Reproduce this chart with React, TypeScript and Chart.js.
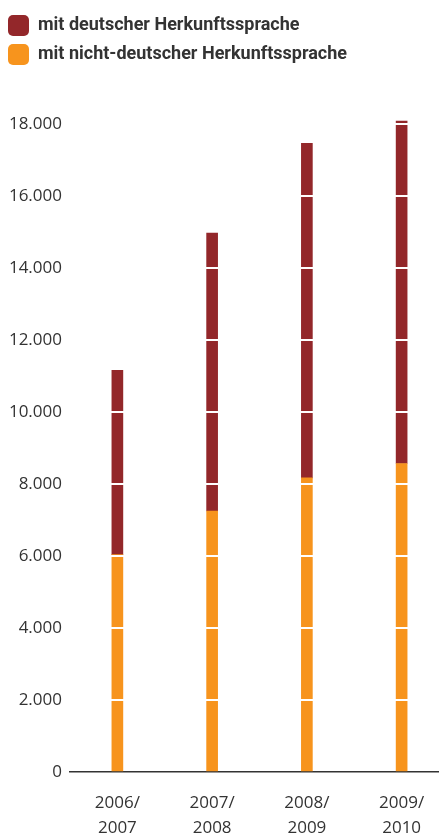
import React, { useEffect, useRef } from "react";
import { Chart, registerables } from "chart.js";

Chart.register(...registerables);

const categories: string[][] = [
  ["2006/", "2007"],
  ["2007/", "2008"],
  ["2008/", "2009"],
  ["2009/", "2010"],
];
const seriesNames = ["mit deutscher Herkunftssprache", "mit nicht-deutscher Herkunftssprache"];
const nichtDeutsch = [6040, 7250, 8170, 8570];
const deutsch = [5120, 7720, 9290, 9510];
const yMin = 0;
const yMax = 18000;
const yStep = 2000;

const RED = "#93272a";
const ORANGE = "#f7941d";

function fmt(v: number): string {
  return String(v).replace(/\B(?=(\d{3})+(?!\d))/g, ".");
}

export default function App() {
  const ref = useRef<HTMLCanvasElement | null>(null);
  useEffect(() => {
    if (!ref.current) return;
    const legendGap = {
      id: "legendGap",
      beforeInit(chart: any) {
        const orig = chart.legend.fit;
        chart.legend.fit = function () {
          orig.bind(chart.legend)();
          this.height += 49;
        };
      },
    };
    const chart = new Chart(ref.current, {
      type: "bar",
      data: {
        labels: categories,
        datasets: [
          {
            label: seriesNames[0],
            data: deutsch,
            backgroundColor: RED,
            borderWidth: 0,
            barThickness: 11,
            order: 2,
            clip: false as any,
          },
          {
            label: seriesNames[1],
            data: nichtDeutsch,
            backgroundColor: ORANGE,
            borderWidth: 0,
            barThickness: 11,
            order: 1,
            clip: false as any,
          },
        ],
      },
      plugins: [legendGap],
      options: {
        animation: false,
        responsive: false,
        maintainAspectRatio: false,
        layout: { padding: { top: 7, left: 0, right: 0, bottom: 0 } },
        plugins: {
          tooltip: { enabled: false },
          legend: {
            position: "top",
            align: "start",
            labels: {
              boxWidth: 21,
              boxHeight: 21,
              padding: 8,
              useBorderRadius: true,
              borderRadius: 5,
              color: "#333",
              font: { family: "'Liberation Sans Narrow', Roboto, sans-serif", size: 18, weight: "bold" },
              sort: (a: any, b: any) => a.datasetIndex - b.datasetIndex,
            } as any,
          },
        },
        scales: {
          x: {
            stacked: true,
            grid: { display: false },
            border: { display: true, color: "#333", width: 1.5 },
            ticks: {
              color: "#333",
              padding: 10,
              font: { family: "'Open Sans', sans-serif", size: 17, lineHeight: 1.5 },
              maxRotation: 0,
            },
            afterFit(scale: any) {
              scale.height = 63;
            },
          },
          y: {
            stacked: true,
            min: yMin,
            max: yMax,
            border: { display: false },
            grid: {
              z: 1,
              drawTicks: false,
              lineWidth: 2,
              color: (ctx: any) => (ctx.tick && ctx.tick.value === 0 ? "rgba(0,0,0,0)" : "#ffffff"),
            },
            ticks: {
              stepSize: yStep,
              padding: 8,
              color: "#333",
              font: { family: "'Open Sans', sans-serif", size: 17 },
              callback: (v: any) => fmt(Number(v)),
            },
            afterFit(scale: any) {
              scale.width = 70;
            },
          } as any,
        },
      },
    });
    return () => chart.destroy();
  }, []);
  return (
    <div style={{ position: "absolute", left: 0, top: 0, width: 439, height: 835, overflow: "hidden", background: "#fff" }}>
      <canvas ref={ref} width={449} height={835} style={{ width: 449, height: 835, display: "block" }} />
    </div>
  );
}
